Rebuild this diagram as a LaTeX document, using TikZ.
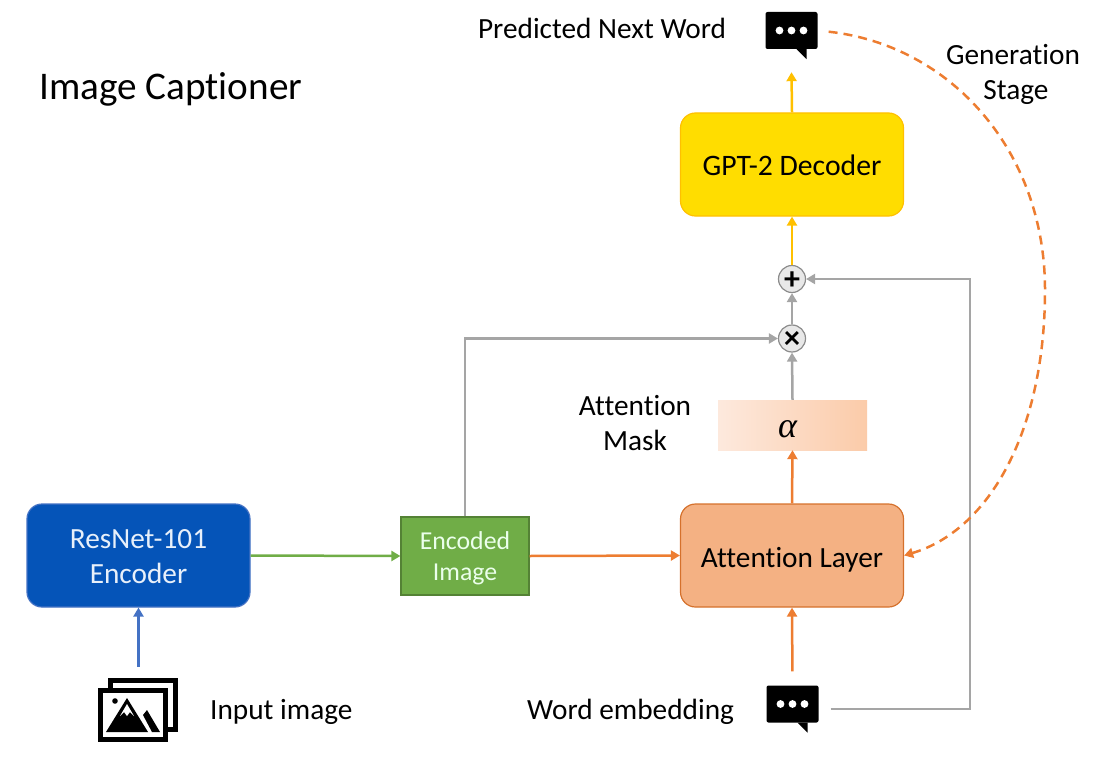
\documentclass[tikz,border=0pt]{standalone}
\usepackage{fontspec}
\setmainfont[Ligatures=NoCommon]{Carlito}
\newfontfamily\alphafont{Liberation Serif}
\usetikzlibrary{arrows.meta}
\definecolor{cgreen}{HTML}{70AD47}
\definecolor{corange}{HTML}{ED7D31}
\definecolor{cyellow}{HTML}{FFC000}
\definecolor{cblue}{HTML}{4472C4}
\definecolor{cgray}{HTML}{A5A5A5}
\definecolor{resfill}{HTML}{0554B8}
\definecolor{attfill}{HTML}{F4B183}
\definecolor{gptfill}{HTML}{FFDD00}
\definecolor{alphaL}{HTML}{FDE9DD}
\definecolor{alphaR}{HTML}{FBCBA9}
\definecolor{lighttext}{HTML}{E8F0FA}
\newcommand{\lowered}[2]{\raisebox{-#1pt}[0pt][0pt]{#2}}
\tikzset{
  x=1pt,y=-1pt,
  conn/.style={line width=2.5pt,-{Triangle[length=9pt,width=10pt]}},
  block/.style={draw,line width=1.2pt,rounded corners=15pt,minimum width=223pt,minimum height=103pt,inner sep=0pt,align=center,font=\fontsize{29.3}{35}\selectfont},
  txt/.style={inner sep=0pt,align=center,font=\fontsize{29.3}{35}\selectfont},
  opcirc/.style={circle,draw=cgray!85!black,fill=black!9,line width=1.2pt,minimum size=27pt,inner sep=0pt},
  optext/.style={inner sep=0pt,font=\bfseries\fontsize{32}{32}\selectfont},
  bubble/.style={fill=black,rounded corners=2pt,minimum width=52pt,minimum height=37pt,inner sep=0pt},
}
\newcommand{\bubbledraw}[1]{%
  \fill[black] ([xshift=5pt]#1.south) -- ([xshift=15pt,yshift=-10pt]#1.south) -- ([xshift=15pt]#1.south) -- cycle;
  \foreach \dx in {-12,0,12} \fill[white] ([xshift=\dx pt]#1.center) circle (3.9pt);
}
\begin{document}
\begin{tikzpicture}
\useasboundingbox (0,0) rectangle (1113,762);
\node[txt,anchor=west,font=\fontsize{39.2}{42}\selectfont] (title) at (39,89) {Image Captioner};

% blocks
\node[block,fill=resfill,draw=cblue,text=lighttext] (resnet) at (138.5,555.5) {\lowered{10.5}{ResNet-101}\\\lowered{10.5}{Encoder}};
\node[fill=cgreen,draw=cgreen!75!black,line width=1.2pt,minimum width=128pt,minimum height=78pt,inner sep=0pt,align=center,font=\fontsize{25.8}{31}\selectfont,text=white!92!green] (enc) at (465,556) {\lowered{9}{Encoded}\\\lowered{9}{Image}};
\node[block,fill=attfill,draw=corange!90!black] (att) at (792,555.5) {\lowered{11.5}{Attention Layer}};
\node[block,fill=gptfill,draw=cyellow,font=\fontsize{29.7}{35}\selectfont] (gpt) at (792,164.5) {\lowered{11}{GPT-2 Decoder}};
\node[left color=alphaL,right color=alphaR,minimum width=149pt,minimum height=50pt,inner sep=0pt,font=\alphafont\itshape\fontsize{36}{38}\selectfont] (alpha) at (792.5,425) {\lowered{12}{\hspace*{-10pt}α}};
\node[opcirc] (mul) at (792,338.5) {};
\node[optext] (multxt) at (792,338.5) {\lowered{10}{×}};
\node[opcirc] (add) at (792,279) {};
\node[optext] (addtxt) at (792,279) {\lowered{10}{+}};

% bubbles
\node[bubble] (top) at (791.5,30.5) {};
\bubbledraw{top}
\node[bubble] (word) at (792.5,704) {};
\bubbledraw{word}

% image icon
\node[minimum width=80pt,minimum height=64pt,inner sep=0pt] (img) at (138,710) {};
\draw[line width=5pt,fill=white] (110.5,680.5) rectangle (175.5,729.5);
\draw[line width=5pt,fill=white] (100.5,690.5) rectangle (165.5,739.5);
\fill (115,701) circle (2.8pt);
\fill (106,732) -- (127,698) -- (148,732) -- cycle;
\fill[white] (120,716) -- (127,704) -- (134,716) -- (130,712) -- (127,716) -- (124,712) -- cycle;
\fill (143,715) -- (147,710) -- (160,732) -- (152,732) -- cycle;

% labels
\node[txt] (pnw) at (602,28) {Predicted Next Word};
\node[txt] (gen) at (1013,74) {Generation\\\hspace*{6pt}Stage};
\node[txt] (mask) at (635,423) {Attention\\Mask};
\node[txt,anchor=west] (inp) at (210,712) {Input image};
\node[txt,anchor=west] (wemb) at (527,712) {Word embedding};

% connectors
\draw[conn,cblue,shorten <=11pt] (img.north -| resnet.south) -- (resnet.south);
\draw[conn,cgreen] (resnet.east) -- (enc.west);
\draw[conn,corange] (enc.east) -- (att.west);
\draw[conn,corange] (att.north) -- (alpha.south);
\draw[conn,corange,shorten <=14pt] (word.north) -- (att.south);
\draw[conn,cgray] (alpha.north) -- (mul.south);
\draw[conn,cgray] (mul.north) -- (add.south);
\draw[conn,cgray] (enc.north) |- (mul.west);
\draw[conn,cyellow] (add.north) -- (gpt.south);
\draw[conn,cyellow] (gpt.north) -- ([yshift=-23pt]top.south);
\draw[conn,cgray,shorten <=12pt] (word.east |- 0,709) -- (970,709) -- (970,279) -- (add.east);
\draw[conn,corange,dash pattern=on 9pt off 6pt,shorten <=11pt] (top.east) .. controls (950,45) and (1045,150) .. (1045,290) .. controls (1045,430) and (990,530) .. (att.east);
\end{tikzpicture}
\end{document}
